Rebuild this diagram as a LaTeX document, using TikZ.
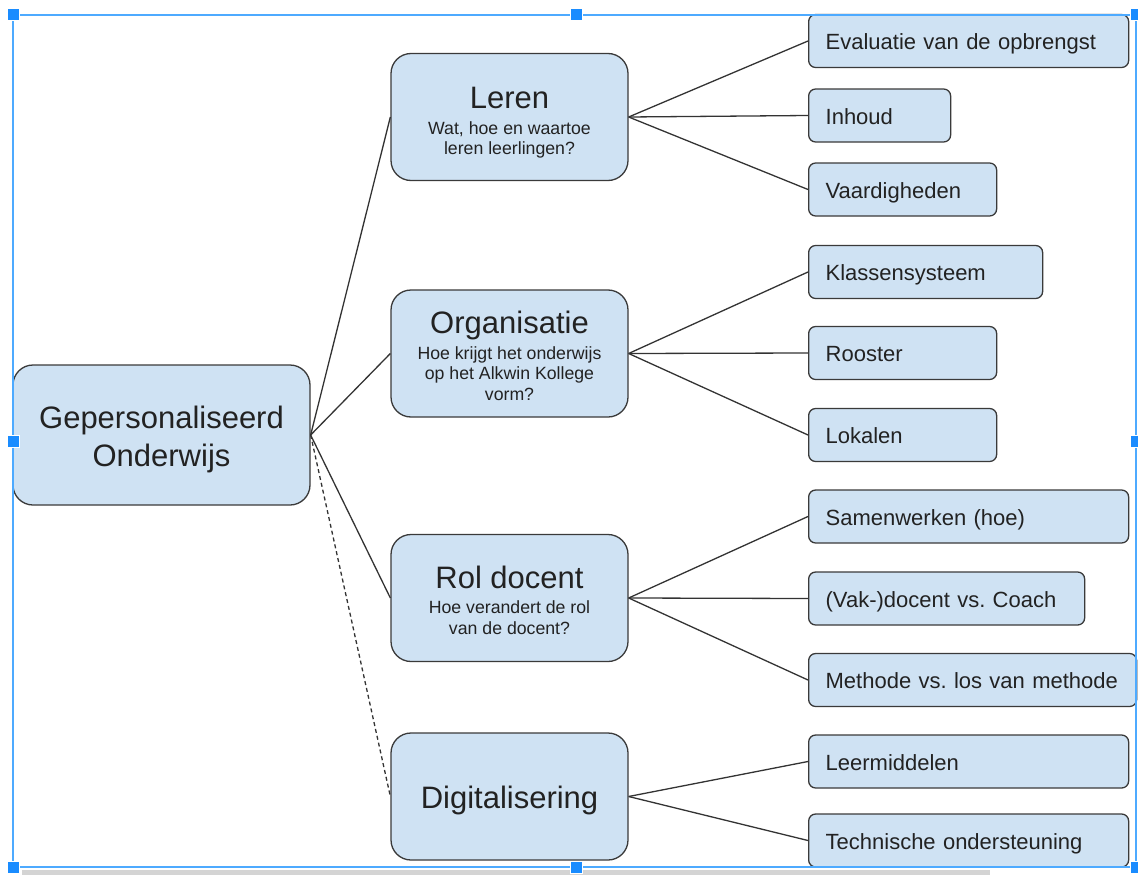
\documentclass[tikz,border=0pt]{standalone}
\usepackage{fontspec}
\setmainfont{Liberation Sans}
\frenchspacing
\hyphenpenalty=10000
\definecolor{boxfill}{HTML}{CFE2F3}
\definecolor{boxline}{HTML}{3A3A3A}
\definecolor{textgray}{HTML}{222222}
\definecolor{linegray}{HTML}{333333}
\definecolor{selblue}{HTML}{1A8CFF}
\definecolor{framblue}{HTML}{4DAAFF}
\definecolor{bargray}{HTML}{D4D4D4}
% title line of a topic box; the optional value lifts the top edge of the text
\newcommand{\topichead}[2][27]{{\fontsize{31}{34}\selectfont\rule{0pt}{#1pt}#2}}

\begin{document}
\begin{tikzpicture}[x=1pt,y=-1pt,
  box/.style={draw=boxline,fill=boxfill,line width=1.3pt,text=textgray},
  hub/.style={box,rounded corners=20pt,minimum width=297pt,minimum height=140pt,align=center,font=\fontsize{31}{38}\selectfont},
  topic/.style={box,rounded corners=20pt,minimum width=237pt,minimum height=127pt,align=center,font=\fontsize{17.7}{20.5}\selectfont},
  leaf/.style={box,rounded corners=7pt,anchor=west,minimum height=53pt,inner xsep=17pt,text width=#1pt,align=left,font=\fontsize{22}{26}\selectfont,text height=19pt,text depth=2pt},
  link/.style={line width=1.3pt,draw=linegray},
  handle/.style={fill=selblue,draw=white,line width=1pt,minimum size=12pt,inner sep=0pt}]
\useasboundingbox (0,0) rectangle (1138,875);

% centre and the four topics
\node[hub] (gpo) at (161.5,435) {\rule{0pt}{31pt}Gepersonaliseerd\\Onderwijs};
\node[topic] (leren) at (509.5,117) {\topichead[33]{Leren}\\[5pt] Wat, hoe en waartoe\\ leren leerlingen?};
\node[topic] (organisatie) at (509.5,353.5) {\topichead{Organisatie}\\[5pt] Hoe krijgt het onderwijs\\ op het Alkwin Kollege\\ vorm?};
\node[topic] (rol) at (509.5,598) {\topichead{Rol docent}\\[5pt] Hoe verandert de rol\\ van de docent?};
\node[topic,text depth=0pt] (digi) at (509.5,796.5) {\topichead[23]{Digitalisering}};

% leaves
\node[leaf=286] (evaluatie) at (808,41) {Evaluatie van de opbrengst};
\node[leaf=108] (inhoud) at (808,115.5) {Inhoud};
\node[leaf=154] (vaardig) at (808,189.5) {Vaardigheden};
\node[leaf=200] (klassen) at (808,272) {Klassensysteem};
\node[leaf=154] (rooster) at (808,353) {Rooster};
\node[leaf=154] (lokalen) at (808,435) {Lokalen};
\node[leaf=286] (samen) at (808,516.5) {Samenwerken (hoe)};
\node[leaf=242] (coach) at (808,598.5) {(Vak-)docent vs. Coach};
\node[leaf=294] (methode) at (808,680) {Methode vs. los van methode};
\node[leaf=286] (leermid) at (808,761.5) {Leermiddelen};
\node[leaf=286] (techniek) at (808,840.5) {Technische ondersteuning};

% connectors
\draw[link] (gpo.east) -- (leren.west);
\draw[link] (gpo.east) -- (organisatie.west);
\draw[link] (gpo.east) -- (rol.west);
\draw[link,dash pattern=on 4pt off 3pt] (gpo.east) -- (digi.west);
\foreach \t/\l in {leren/evaluatie,leren/inhoud,leren/vaardig,organisatie/klassen,organisatie/rooster,organisatie/lokalen,rol/samen,rol/coach,rol/methode,digi/leermid,digi/techniek}
  \draw[link] (\t.east) -- (\l.west);

% selection frame
\fill[bargray] (22,870) rectangle (990,875);
\draw[framblue,line width=2pt] (13,15) rectangle (1136,867);
\foreach \hx/\hy [count=\i] in {13/15,576/15,1136/15,13/441,1136/441,13/867,576/867,1136/867}
  \node[handle] (handle\i) at (\hx,\hy) {};
\end{tikzpicture}
\end{document}
